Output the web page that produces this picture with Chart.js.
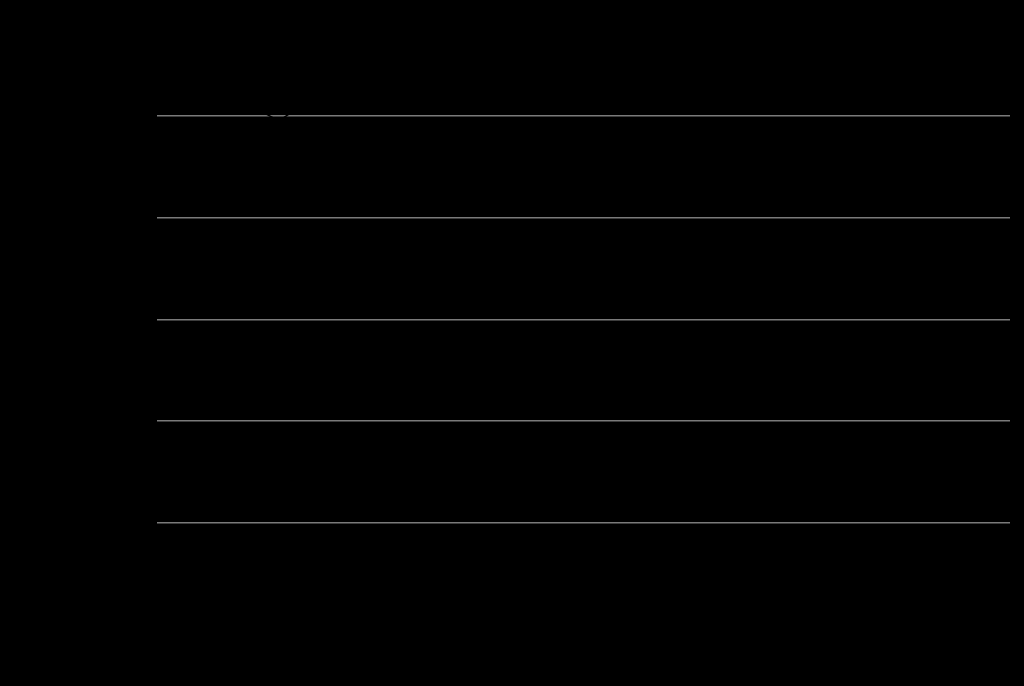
<!DOCTYPE html>
<html>
<head>
<meta charset="utf-8">
<script src="https://cdn.jsdelivr.net/npm/chart.js@4"></script>
<style>
  html, body { margin: 0; padding: 0; background: #000; }
  #wrap { width: 1024px; height: 686px; position: relative; }
</style>
</head>
<body>
<div id="wrap"><canvas id="c"></canvas></div>
<script>
const categories = ['1', '2', '3', '4', '5', '6', '7', '8'];
const seriesValues = [92, 79, 95, 90, 94, 88, 96, 91];
const yTicks = [0, 20, 40, 60, 80, 100];
const seriesName = 'Series';

Chart.defaults.font.family = 'DejaVu Sans';
Chart.defaults.color = '#000';

new Chart(document.getElementById('c'), {
  type: 'line',
  data: {
    labels: categories,
    datasets: [{
      label: seriesName,
      data: seriesValues,
      borderColor: '#000',
      backgroundColor: '#000',
      borderWidth: 1.5,
      pointRadius: 0,
      tension: 0
    }]
  },
  options: {
    responsive: true,
    maintainAspectRatio: false,
    animation: false,
    layout: { padding: { top: 14, right: 14, left: 0, bottom: 0 } },
    plugins: { legend: { display: false }, tooltip: { enabled: false } },
    scales: {
      x: {
        grid: { display: false },
        border: { display: false },
        ticks: { color: '#000' },
        afterFit: s => { s.height = 163; }
      },
      y: {
        min: yTicks[0],
        max: yTicks[yTicks.length - 1],
        ticks: { stepSize: yTicks[1] - yTicks[0], color: '#000' },
        border: { display: false },
        grid: {
          drawTicks: false,
          lineWidth: 1.5,
          color: ctx => (ctx.tick && ctx.tick.value === yTicks[yTicks.length - 1]) ? 'rgba(0,0,0,0)' : '#7a7a7a'
        },
        afterFit: s => { s.width = 157; }
      }
    }
  }
});
</script>
</body>
</html>
